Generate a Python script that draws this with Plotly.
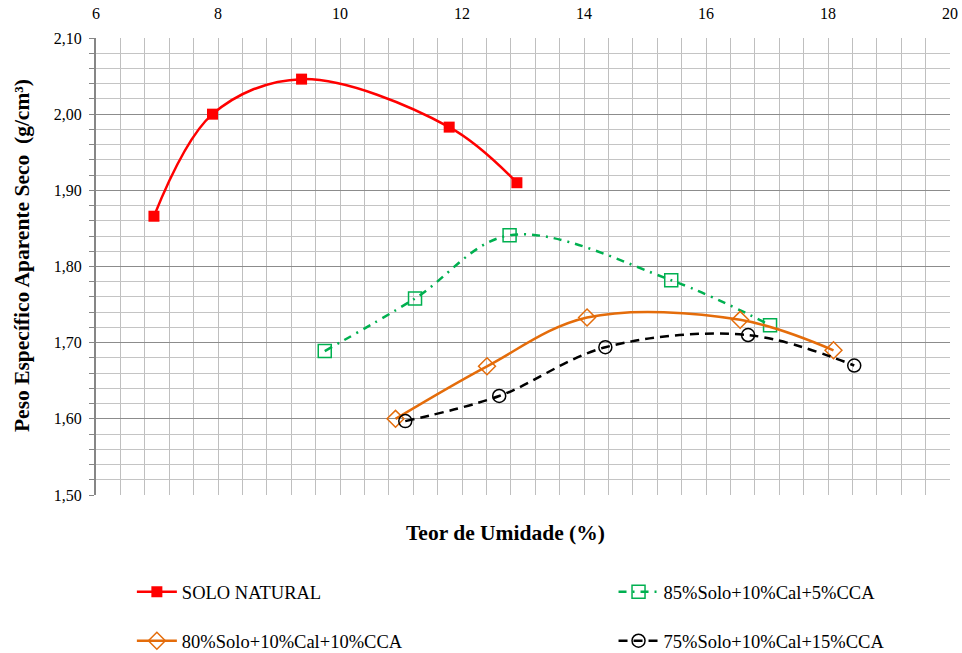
import plotly.graph_objects as go

# Moisture content (%) and dry unit weight (g/cm3) for each mix
solo_x = [6.95, 7.91, 9.37, 11.79, 12.90]
solo_y = [1.866, 2.000, 2.046, 1.983, 1.910]

cca5_x = [9.75, 11.23, 12.78, 15.43, 17.05]
cca5_y = [1.689, 1.758, 1.841, 1.782, 1.723]

cca10_x = [10.91, 12.41, 14.05, 16.56, 18.09]
cca10_y = [1.600, 1.669, 1.733, 1.730, 1.690]

cca15_x = [11.07, 12.61, 14.35, 16.69, 18.43]
cca15_y = [1.597, 1.630, 1.694, 1.710, 1.670]

names = ["SOLO NATURAL", "85%Solo+10%Cal+5%CCA",
         "80%Solo+10%Cal+10%CCA", "75%Solo+10%Cal+15%CCA"]

x_ticks = [6, 8, 10, 12, 14, 16, 18, 20]

FONT = "Liberation Serif, Times New Roman, serif"

fig = go.Figure()

fig.add_trace(go.Scatter(
    x=solo_x, y=solo_y, name=names[0], mode="lines+markers",
    line=dict(color="#FF0000", width=2.5, shape="spline", smoothing=1),
    marker=dict(symbol="square", size=11, color="#FF0000"),
    legend="legend", legendgroup="a"))

fig.add_trace(go.Scatter(
    x=cca5_x, y=cca5_y, name=names[1], mode="lines+markers",
    line=dict(color="#00B050", width=2.5, shape="spline", smoothing=1,
              dash="8px,6px,2px,6px"),
    marker=dict(symbol="square-open", size=13, color="#00B050",
                line=dict(width=1.5, color="#00B050")),
    legend="legend2", legendgroup="b"))

fig.add_trace(go.Scatter(
    x=cca10_x, y=cca10_y, name=names[2], mode="lines+markers",
    line=dict(color="#E46C0A", width=2.5, shape="spline", smoothing=1),
    marker=dict(symbol="diamond-open", size=13, color="#E46C0A",
                line=dict(width=1.5, color="#E46C0A")),
    legend="legend", legendgroup="c"))

fig.add_trace(go.Scatter(
    x=cca15_x, y=cca15_y, name=names[3], mode="lines+markers",
    line=dict(color="#000000", width=2.5, shape="spline", smoothing=1,
              dash="9px,6px"),
    marker=dict(symbol="circle-open", size=13, color="#000000",
                line=dict(width=1.5, color="#000000")),
    legend="legend2", legendgroup="d"))

legend_common = dict(
    orientation="v", xanchor="left", yanchor="top",
    font=dict(family=FONT, size=18.5, color="#000000"),
    bgcolor="rgba(0,0,0,0)", borderwidth=0, tracegroupgap=22, itemwidth=40,
)

fig.update_layout(
    width=962, height=653,
    margin=dict(l=96, r=12, t=38, b=158, autoexpand=False),
    paper_bgcolor="white", plot_bgcolor="white",
    separators=",.",
    font=dict(family=FONT, size=16, color="#000000"),
    xaxis=dict(
        range=[6, 20], side="top", tickmode="array", tickvals=x_ticks,
        ticktext=[str(v) for v in x_ticks],
        showgrid=True, gridcolor="#bfbfbf", gridwidth=1,
        minor=dict(dtick=0.4, tick0=6, showgrid=True, gridcolor="#bfbfbf",
                   gridwidth=1),
        showline=False, zeroline=False, ticks="", ticklabelstandoff=15,
        tickfont=dict(family=FONT, size=16), automargin=False,
    ),
    xaxis2=dict(
        range=[6, 20], overlaying="x", side="bottom", anchor="y",
        tickmode="array", tickvals=x_ticks, showticklabels=False,
        ticks="outside", ticklen=5, tickcolor="#868686",
        showgrid=False, zeroline=False, automargin=False,
        showline=True, linecolor="#868686", linewidth=2,
    ),
    yaxis=dict(
        range=[1.5, 2.1], dtick=0.1, tick0=1.5, tickformat=".2f",
        showgrid=True, gridcolor="#8c8c8c", gridwidth=1,
        minor=dict(dtick=0.02, tick0=1.5, showgrid=True, gridcolor="#c4c4c4",
                   ticks="outside", ticklen=5, tickcolor="#868686"),
        ticks="outside", ticklen=5, tickcolor="#868686", ticklabelstandoff=4,
        showline=True, linecolor="#868686", linewidth=2, zeroline=False,
        tickfont=dict(family=FONT, size=16), automargin=False,
    ),
    legend=dict(x=0.042, y=-0.171, **legend_common),
    legend2=dict(x=0.606, y=-0.171, **legend_common),
    annotations=[
        dict(text="<b>Teor de Umidade (%)</b>", xref="paper", yref="paper",
             x=0.479, y=-0.083, xanchor="center", yanchor="middle",
             showarrow=False, font=dict(family=FONT, size=21.5)),
        dict(text="<b>Peso Específico Aparente Seco  (g/cm³)</b>",
             xref="paper", yref="paper", x=-0.0867, y=0.525,
             xanchor="center", yanchor="middle", textangle=-90,
             showarrow=False, font=dict(family=FONT, size=21.5)),
    ],
)

fig.write_html("out.html")
